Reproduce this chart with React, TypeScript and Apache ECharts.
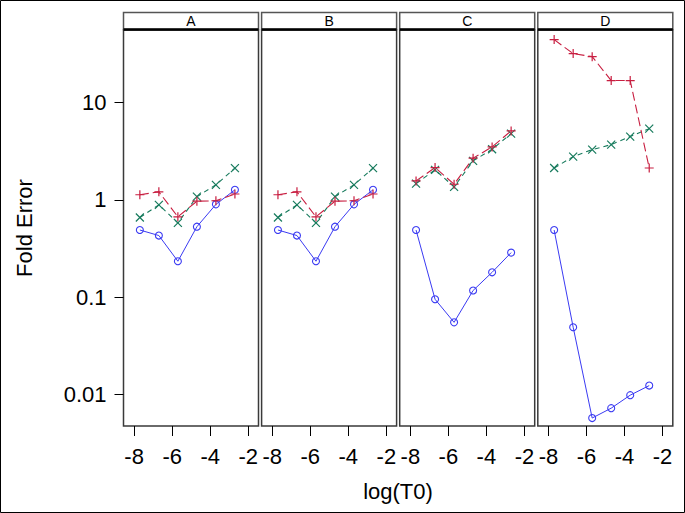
import React, { useEffect, useRef } from 'react';
import * as echarts from 'echarts';

const panelNames = ['A', 'B', 'C', 'D'];
const xValues = [-7.7, -6.7, -5.7, -4.7, -3.7, -2.7];

const blueA = [0.49, 0.43, 0.234, 0.53, 0.9, 1.27];
const greenA = [0.66, 0.89, 0.58, 1.08, 1.43, 2.12];
const redA = [1.13, 1.21, 0.67, 0.97, 0.98, 1.15];

const blueB = [0.49, 0.43, 0.234, 0.53, 0.9, 1.27];
const greenB = [0.66, 0.89, 0.58, 1.08, 1.43, 2.12];
const redB = [1.13, 1.21, 0.67, 0.97, 0.98, 1.15];

const blueC = [0.49, 0.095, 0.055, 0.117, 0.18, 0.287];
const greenC = [1.47, 2.04, 1.36, 2.52, 3.32, 4.81];
const redC = [1.57, 2.15, 1.45, 2.69, 3.51, 5.13];

const blueD = [0.49, 0.049, 0.0057, 0.0072, 0.0098, 0.0123];
const greenD = [2.13, 2.79, 3.29, 3.71, 4.48, 5.41];
const redD = [44.6, 32, 29.8, 16.9, 16.9, 2.13];

const panelData = [
  [blueA, greenA, redA],
  [blueB, greenB, redB],
  [blueC, greenC, redC],
  [blueD, greenD, redD],
];

const xTicks = [-8, -6, -4, -2];
const yTicks = [0.01, 0.1, 1, 10];
const yTickLabels = ['0.01', '0.1', '1', '10'];

const X_MIN = -8.56;
const X_MAX = -1.46;
const Y_MIN = 0.00472;
const Y_MAX = 56;

const FONT = 'Liberation Sans, Arial, sans-serif';
const BLUE = '#3a3af2';
const GREEN = '#167a5c';
const RED = '#c81e40';

export default function App() {
  const ref = useRef<HTMLDivElement>(null);
  useEffect(() => {
    document.body.style.margin = '0';
    const chart = echarts.init(ref.current!, null, { renderer: 'svg' });
    const lefts = [123.5, 261.6, 399.7, 537.8];
    const W = 135;
    const TOP = 30;
    const H = 396;

    const grids = lefts.map((l) => ({
      left: l,
      top: TOP,
      width: W,
      height: H,
      show: true,
      borderColor: '#3a3a3a',
      borderWidth: 1.5,
      backgroundColor: '#fff',
    }));

    const xAxes = lefts.map((_, i) => ({
      type: 'value',
      gridIndex: i,
      min: X_MIN,
      max: X_MAX,
      splitLine: { show: false },
      axisLine: { show: false },
      axisTick: {
        show: true,
        length: 10,
        customValues: xTicks,
        lineStyle: { color: '#000', width: 1 },
      },
      axisLabel: {
        show: true,
        customValues: xTicks,
        margin: 19,
        fontSize: 22,
        fontFamily: FONT,
        color: '#000',
        formatter: (v: number) => String(Math.round(v)),
      },
    }));

    const yAxes = lefts.map((_, i) => ({
      type: 'log',
      logBase: 10,
      gridIndex: i,
      min: Y_MIN,
      max: Y_MAX,
      splitLine: { show: false },
      axisLine: { show: false },
      axisTick: {
        show: i === 0,
        length: 9,
        customValues: yTicks,
        lineStyle: { color: '#000', width: 1 },
      },
      axisLabel: {
        show: i === 0,
        customValues: yTicks,
        margin: 17,
        fontSize: 22,
        fontFamily: FONT,
        color: '#000',
        formatter: (v: number) => {
          let best = 0;
          for (let k = 0; k < yTicks.length; k++) {
            if (Math.abs(Math.log10(v) - Math.log10(yTicks[k])) < Math.abs(Math.log10(v) - Math.log10(yTicks[best]))) best = k;
          }
          return yTickLabels[best];
        },
      },
    }));

    const series: any[] = [];
    panelData.forEach((sets, i) => {
      const [b, g, r] = sets;
      series.push({
        type: 'line',
        xAxisIndex: i,
        yAxisIndex: i,
        data: xValues.map((x, k) => [x, b[k]]),
        symbol: 'circle',
        symbolSize: 7,
        itemStyle: { color: 'rgba(255,255,255,0)', borderColor: BLUE, borderWidth: 1.1 },
        lineStyle: { color: BLUE, width: 1 },
      });
      series.push({
        type: 'line',
        xAxisIndex: i,
        yAxisIndex: i,
        data: xValues.map((x, k) => [x, g[k]]),
        symbol: 'path://M0,0L10,10M10,0L0,10',
        symbolSize: 8,
        itemStyle: { color: GREEN, borderColor: GREEN, borderWidth: 1.2 },
        lineStyle: { color: GREEN, width: 1.1, type: [5, 4] },
      });
      series.push({
        type: 'line',
        xAxisIndex: i,
        yAxisIndex: i,
        data: xValues.map((x, k) => [x, r[k]]),
        symbol: 'path://M5,0L5,10M0,5L10,5',
        symbolSize: 9,
        itemStyle: { color: RED, borderColor: RED, borderWidth: 1.2 },
        lineStyle: { color: RED, width: 1.1, type: [9, 4] },
      });
    });

    const graphics: any[] = [
      {
        type: 'rect',
        shape: { x: 0.5, y: 0.5, width: 684, height: 512 },
        style: { fill: 'none', stroke: '#000', lineWidth: 1 },
        z: 100,
      },
      {
        type: 'text',
        x: 398,
        y: 491,
        style: { text: 'log(T0)', font: `22px ${FONT}`, fill: '#000', align: 'center', verticalAlign: 'middle' },
      },
      {
        type: 'text',
        x: 24,
        y: 228,
        rotation: Math.PI / 2,
        style: { text: 'Fold Error', font: `22px ${FONT}`, fill: '#000', align: 'center', verticalAlign: 'middle' },
      },
    ];
    lefts.forEach((l, i) => {
      graphics.push({
        type: 'rect',
        shape: { x: l, y: 12.5, width: W, height: 17 },
        style: { fill: '#fff', stroke: '#555', lineWidth: 1.5 },
        z: 50,
      });
      graphics.push({
        type: 'line',
        shape: { x1: l, y1: 29.5, x2: l + W, y2: 29.5 },
        style: { stroke: '#000', lineWidth: 2.5 },
        z: 51,
      });
      graphics.push({
        type: 'text',
        x: l + W / 2,
        y: 21,
        style: { text: panelNames[i], font: `14px ${FONT}`, fill: '#000', align: 'center', verticalAlign: 'middle' },
        z: 52,
      });
    });

    chart.setOption({
      animation: false,
      backgroundColor: '#fff',
      grid: grids,
      xAxis: xAxes,
      yAxis: yAxes,
      series,
      graphic: graphics,
    });
    return () => chart.dispose();
  }, []);
  return <div ref={ref} style={{ width: 685, height: 513 }} />;
}
